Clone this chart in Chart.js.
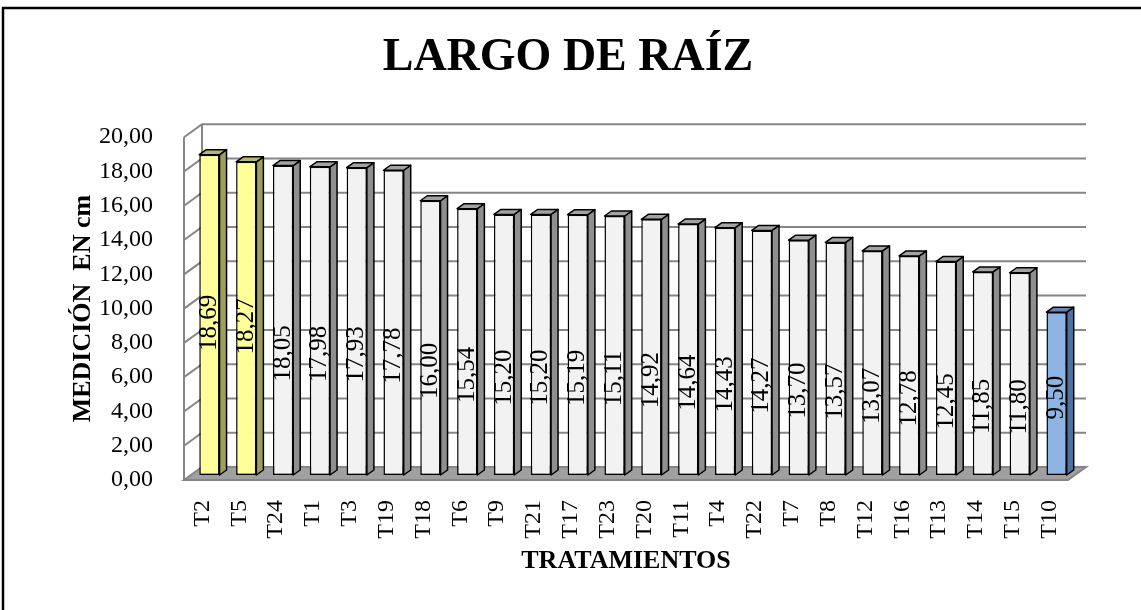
<!DOCTYPE html>
<html>
<head>
<meta charset="utf-8">
<script src="https://cdn.jsdelivr.net/npm/chart.js@4/dist/chart.umd.min.js"></script>
<style>
  html, body { margin: 0; padding: 0; background: #fff; }
  #wrap { width: 1141px; height: 610px; }
</style>
</head>
<body>
<div id="wrap"><canvas id="largoRaiz" width="1141" height="610"></canvas></div>
<script>
var categories = ['T2', 'T5', 'T24', 'T1', 'T3', 'T19', 'T18', 'T6', 'T9', 'T21', 'T17', 'T23',
  'T20', 'T11', 'T4', 'T22', 'T7', 'T8', 'T12', 'T16', 'T13', 'T14', 'T15', 'T10'];
var values = [18.69, 18.27, 18.05, 17.98, 17.93, 17.78, 16.00, 15.54, 15.20, 15.20, 15.19, 15.11,
  14.92, 14.64, 14.43, 14.27, 13.70, 13.57, 13.07, 12.78, 12.45, 11.85, 11.80, 9.50];
var yTicks = [0, 2, 4, 6, 8, 10, 12, 14, 16, 18, 20];

var serif = "'Liberation Serif', 'Times New Roman', serif";

// colour per bar: best two yellow, lowest blue, the rest grey
function barKind(i) {
  if (i < 2) return 'yellow';
  if (i === values.length - 1) return 'blue';
  return 'grey';
}
// labelShift = how far below the bar middle the value text sits
var faces = {
  yellow: { front: '#ffff99', side: '#9f9f5c', top: '#b8b86a', labelShift: 8 },
  grey:   { front: '#f2f2f2', side: '#8f8f8f', top: '#a3a3a3', labelShift: 33 },
  blue:   { front: '#8db4e2', side: '#4f71a0', top: '#6687b8', labelShift: 4 }
};

function fmt(v) {
  return v.toFixed(2).replace('.', ',');
}

// walls, floor and 3D sides of the bars
var threeD = {
  id: 'threeD',
  beforeDraw: function (chart) {
    var ctx = chart.ctx;
    ctx.save();
    ctx.fillStyle = '#fff';
    ctx.fillRect(0, 0, chart.width, chart.height);
    ctx.strokeStyle = '#000';
    ctx.lineWidth = 2.5;
    ctx.strokeRect(3, 8, chart.width + 20, chart.height + 20);
    ctx.restore();
  },
  beforeDatasetsDraw: function (chart) {
    var ctx = chart.ctx, a = chart.chartArea, y = chart.scales.y;
    var dx = 18, dy = 13;
    var y0 = y.getPixelForValue(0);
    ctx.save();
    ctx.strokeStyle = '#868686';
    ctx.lineWidth = 2;
    // floor
    ctx.fillStyle = '#a0a0a0';
    ctx.beginPath();
    ctx.moveTo(a.left, y0);
    ctx.lineTo(a.left + dx, y0 - dy);
    ctx.lineTo(a.right + dx, y0 - dy);
    ctx.lineTo(a.right, y0);
    ctx.closePath();
    ctx.fill();
    ctx.stroke();
    // grid lines on left and back wall
    yTicks.forEach(function (t) {
      if (t === 0) return;
      var py = y.getPixelForValue(t);
      ctx.beginPath();
      ctx.moveTo(a.left, py);
      ctx.lineTo(a.left + dx, py - dy);
      ctx.lineTo(a.right + dx, py - dy);
      ctx.stroke();
    });
    ctx.beginPath();
    ctx.moveTo(a.left, y0);
    ctx.lineTo(a.left, y.getPixelForValue(20));
    ctx.moveTo(a.left + dx, y0 - dy);
    ctx.lineTo(a.left + dx, y.getPixelForValue(20) - dy);
    ctx.stroke();
    ctx.restore();
    // bars stand in the middle of the floor depth
    ctx.save();
    ctx.translate(7, -5);
  },
  afterDatasetsDraw: function (chart) {
    var ctx = chart.ctx;
    var d = 7, e = 5;
    var meta = chart.getDatasetMeta(0);
    meta.data.forEach(function (bar, i) {
      var p = bar.getProps(['x', 'y', 'base', 'width'], true);
      var l = p.x - p.width / 2, r = p.x + p.width / 2;
      var c = faces[barKind(i)];
      ctx.lineWidth = 1.5;
      ctx.strokeStyle = '#000';
      ctx.lineJoin = 'round';
      ctx.fillStyle = c.side;
      ctx.beginPath();
      ctx.moveTo(r, p.y);
      ctx.lineTo(r + d, p.y - e);
      ctx.lineTo(r + d, p.base - e);
      ctx.lineTo(r, p.base);
      ctx.closePath();
      ctx.fill();
      ctx.stroke();
      ctx.fillStyle = c.top;
      ctx.beginPath();
      ctx.moveTo(l, p.y);
      ctx.lineTo(l + d, p.y - e);
      ctx.lineTo(r + d, p.y - e);
      ctx.lineTo(r, p.y);
      ctx.closePath();
      ctx.fill();
      ctx.stroke();
      // value label, rotated
      ctx.save();
      ctx.translate(p.x, (p.y + p.base) / 2 + c.labelShift);
      ctx.rotate(-Math.PI / 2);
      ctx.font = '25px ' + serif;
      ctx.fillStyle = '#000';
      ctx.textAlign = 'center';
      ctx.textBaseline = 'middle';
      ctx.fillText(fmt(values[i]), 0, 0);
      ctx.restore();
    });
    ctx.restore();
  }
};

var ctx = document.getElementById('largoRaiz').getContext('2d');
var largoRaiz = new Chart(ctx, {
  type: 'bar',
  data: {
    labels: categories,
    datasets: [{
      label: 'Largo de raíz',
      data: values,
      backgroundColor: values.map(function (v, i) { return faces[barKind(i)].front; }),
      borderColor: '#000',
      borderWidth: 1.5,
      borderSkipped: false,
      categoryPercentage: 1,
      barPercentage: 0.55
    }]
  },
  options: {
    responsive: false,
    animation: false,
    layout: {
      padding: { left: 68, right: 73, top: 0, bottom: 0 }
    },
    scales: {
      x: {
        grid: { display: false },
        border: { display: false },
        ticks: {
          color: '#000',
          font: { family: serif, size: 24 },
          minRotation: 90,
          maxRotation: 90,
          autoSkip: false,
          padding: 12
        },
        title: {
          display: true,
          text: 'TRATAMIENTOS',
          color: '#000',
          font: { family: serif, size: 26, weight: 'bold' },
          padding: { top: 0, bottom: 33 }
        },
        afterFit: function (scale) { scale.height = 130; }
      },
      y: {
        min: 0,
        max: 20,
        grid: { display: false },
        border: { display: false },
        afterBuildTicks: function (scale) {
          scale.ticks = yTicks.map(function (v) { return { value: v }; });
        },
        ticks: {
          color: '#000',
          font: { family: serif, size: 24 },
          padding: 23,
          callback: function (v) { return fmt(v); }
        },
        title: {
          display: true,
          text: 'MEDICIÓN  EN cm',
          color: '#000',
          font: { family: serif, size: 26, weight: 'bold' },
          padding: { top: 0, bottom: 0 }
        },
        afterFit: function (scale) { scale.width = 116; }
      }
    },
    plugins: {
      legend: { display: false },
      tooltip: { enabled: false },
      title: {
        display: true,
        text: 'LARGO DE RAÍZ',
        color: '#000',
        font: { family: serif, size: 46, weight: 'bold' },
        padding: { top: 31, bottom: 51 }
      }
    }
  },
  plugins: [threeD]
});
</script>
</body>
</html>
